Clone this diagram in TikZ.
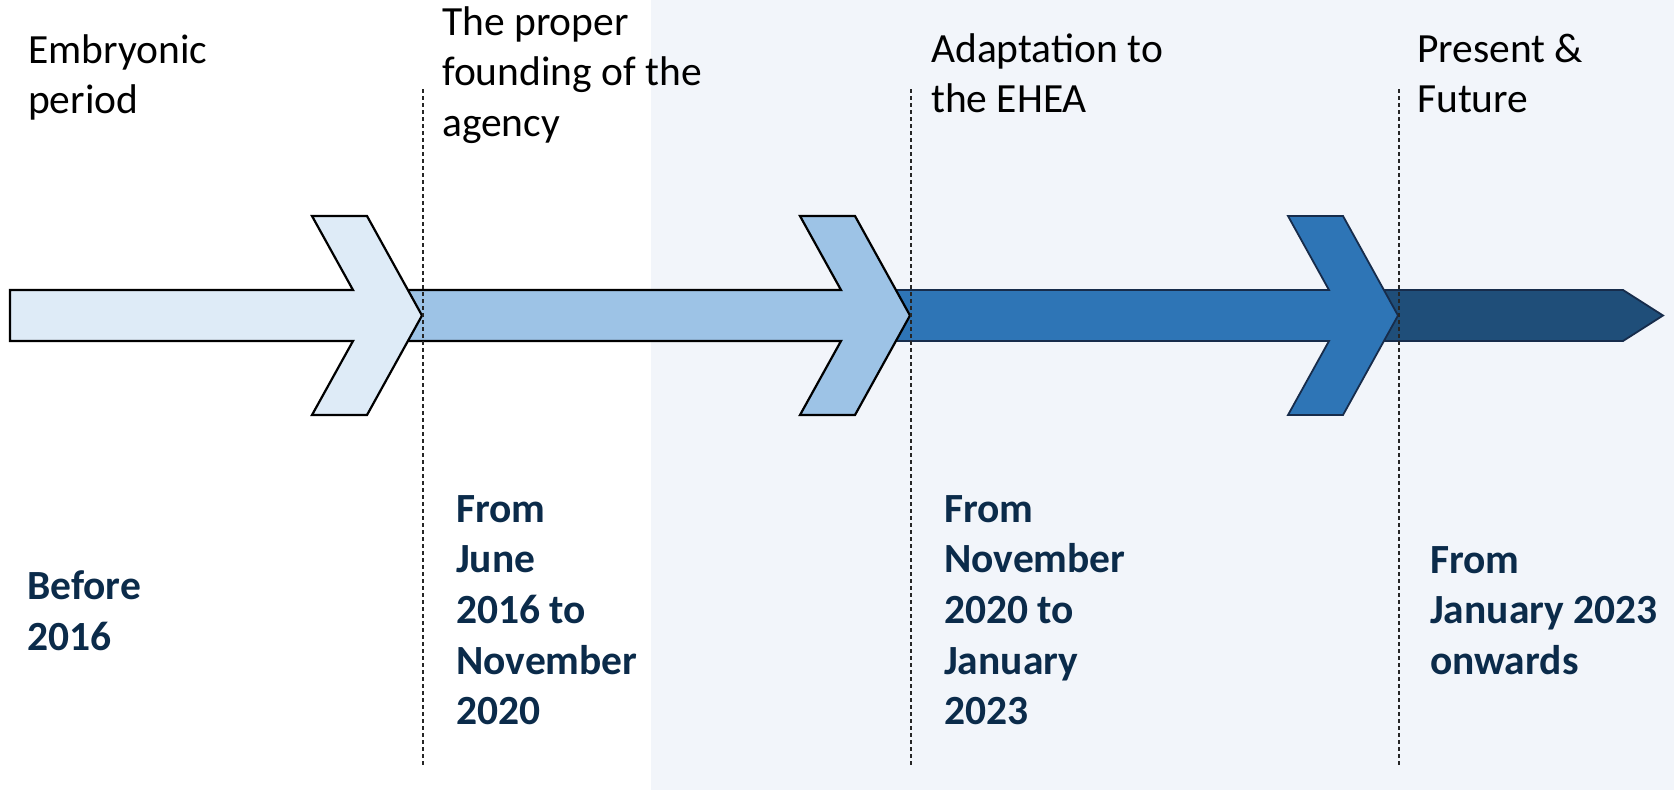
\documentclass[tikz,border=0pt]{standalone}
\usepackage{fontspec}
\setmainfont{Carlito}
\definecolor{bglight}{HTML}{F2F5FA}
\definecolor{segA}{HTML}{DEEBF7}
\definecolor{segB}{HTML}{9DC3E6}
\definecolor{segC}{HTML}{2E75B6}
\definecolor{segD}{HTML}{1F4E79}
\definecolor{navyline}{HTML}{172C4B}
\definecolor{datecol}{HTML}{0B2B4A}
\tikzset{
  phase/.style={anchor=base west, align=left, inner sep=0pt, text=black,
    font=\fontsize{41.5}{50.7}\selectfont},
  datebox/.style={anchor=base west, align=left, inner sep=0pt, text=datecol,
    font=\fontsize{41.5}{50.7}\selectfont\bfseries},
  lightseg/.style={draw=black, line width=2.2pt, line join=miter},
  darkseg/.style={draw=navyline, line width=1.8pt, line join=miter},
  divider/.style={draw=black!85, line width=1.3pt, dash pattern=on 4pt off 3pt}
}
\begin{document}
\begin{tikzpicture}[x=1pt,y=-1pt]
\useasboundingbox (0,0) rectangle (1674,793);
\fill[white] (0,0) rectangle (1674,793);
\fill[bglight] (651,0) rectangle (1674,790);
% arrow segments, drawn back to front
\path[darkseg, fill=segD] (1366,290) -- (1623,290) -- (1663,315.5) -- (1623,341) -- (1366,341) -- cycle;
\path[darkseg, fill=segC] (878,290) -- (1329,290) -- (1288,216) -- (1343,216) -- (1398,315.5) -- (1343,415) -- (1288,415) -- (1329,341) -- (878,341) -- cycle;
\path[lightseg, fill=segB] (390,290) -- (841,290) -- (800,216) -- (855,216) -- (910,315.5) -- (855,415) -- (800,415) -- (841,341) -- (390,341) -- cycle;
\path[lightseg, fill=segA] (10,290) -- (353,290) -- (312,216) -- (367,216) -- (422,315.5) -- (367,415) -- (312,415) -- (353,341) -- (10,341) -- cycle;
% dividers
\coordinate (d1t) at (423,89); \coordinate (d1b) at (423,767);
\coordinate (d2t) at (911,89); \coordinate (d2b) at (911,767);
\coordinate (d3t) at (1399,89); \coordinate (d3b) at (1399,767);
\draw[divider] (d1t) -- (d1b);
\draw[divider] (d2t) -- (d2b);
\draw[divider] (d3t) -- (d3b);
% phase titles (anchor = baseline of last line)
\node[phase] (p1) at (28,113.7) {Embryonic\\period};
\node[phase] (p2) at (442,136.4) {The proper\\founding of the\\agency};
\node[phase] (p3) at (931,112.7) {Adaptation to\\the EHEA};
\node[phase] (p4) at (1417,112.7) {Present \&\\Future};
% dates
\node[datebox] (t1) at (27,650) {Before\\2016};
\node[datebox] (t2) at (456,724.8) {From\\June\\2016 to\\November\\2020};
\node[datebox] (t3) at (944,724.8) {From\\November\\2020 to\\January\\2023};
\node[datebox] (t4) at (1430,674.4) {From\\January 2023\\onwards};
\end{tikzpicture}
\end{document}
